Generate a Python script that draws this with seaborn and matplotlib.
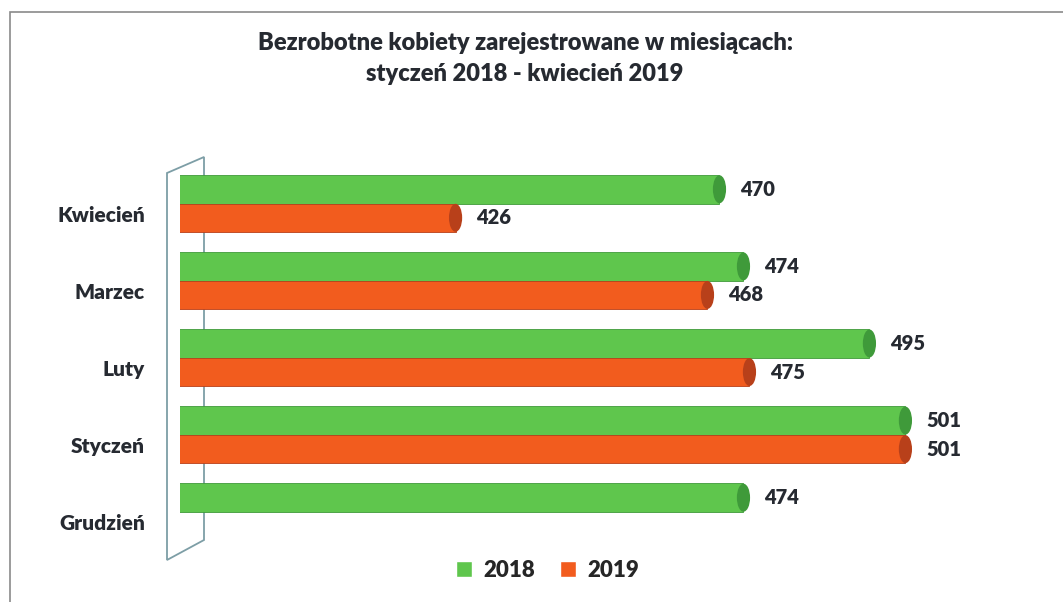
import numpy as np
import pandas as pd
import matplotlib
matplotlib.use("Agg")
import matplotlib.pyplot as plt
import seaborn as sns
from matplotlib.patches import Ellipse, Polygon, Rectangle
from matplotlib.transforms import ScaledTranslation

months = ["Kwiecień", "Marzec", "Luty", "Styczeń", "Grudzień"]
values_2018 = [470, 474, 495, 501, 474]
values_2019 = [426, 468, 475, 501, np.nan]
years = ["2018", "2019"]
title = "Bezrobotne kobiety zarejestrowane w miesiącach:\nstyczeń 2018 - kwiecień 2019"

colors = {"2018": "#5fc64d", "2019": "#f25c1e"}
caps = {"2018": "#3f9a3a", "2019": "#b8401a"}
ink = "#262a31"

df = pd.DataFrame({
    "month": months * 2,
    "year": [years[0]] * len(months) + [years[1]] * len(months),
    "value": values_2018 + values_2019,
})

sns.set_theme(style="white")
plt.rcParams["font.family"] = ["Lato", "DejaVu Sans"]

fig = plt.figure(figsize=(10.63, 6.02), dpi=100)
ax = fig.add_axes([0.169, 0.0855, 0.821, 0.6405])
ax.set_zorder(2)
ax.patch.set_alpha(0)

sns.barplot(data=df, x="value", y="month", hue="year", order=months,
            hue_order=years, palette=colors, orient="h", width=0.74,
            gap=0, ax=ax, saturation=1, legend=True)

ax.set_xlim(380, 525.5)
ax.set_ylim(4.5, -0.5)

# cylinder ends + value labels
for cont, yr in zip(ax.containers, years):
    for p in cont.patches:
        w = p.get_width()
        if not np.isfinite(w):
            continue
        yc = p.get_y() + p.get_height() / 2
        ax.add_patch(Ellipse((p.get_x() + w, yc), width=2.2,
                             height=p.get_height() * 0.98,
                             facecolor=caps[yr], edgecolor="none", zorder=3))
        p.set_edgecolor(caps[yr])
        p.set_linewidth(0.6)
    ax.bar_label(cont, padding=15, fontsize=14.5, fontweight="heavy",
                 color=ink, fmt="%d")

for s in ax.spines.values():
    s.set_visible(False)
ax.set_xticks([])
ax.set_xlabel("")
ax.set_ylabel("")
ax.tick_params(axis="y", length=0, pad=25, labelsize=15)
for lbl in ax.get_yticklabels():
    lbl.set_fontweight("heavy")
    lbl.set_color(ink)
    lbl.set_transform(lbl.get_transform() + ScaledTranslation(0, -0.1, fig.dpi_scale_trans))

# 3D wall behind the category axis
W, H = 1063, 602
wall = [(167, 173), (204, 157), (204, 540), (167, 560)]
fig.patches.append(Polygon([(x / W, 1 - y / H) for x, y in wall], closed=True,
                           transform=fig.transFigure, fill=False,
                           edgecolor="#7d9ea6", linewidth=1.3, zorder=0))

# chart frame
fig.patches.append(Rectangle((10 / W, -0.05), 1.1, 1 - 12 / H + 0.05,
                             transform=fig.transFigure, fill=False,
                             edgecolor="#8a8a8a", linewidth=1.2, zorder=0))

fig.text(0.494, 0.902, title, ha="center", va="center", fontsize=17,
         fontweight="heavy", color=ink, linespacing=1.5)

ax.legend_.remove()
handles = [Rectangle((0, 0), 1, 1, facecolor=colors[y]) for y in years]
fig.legend(handles, years, loc="center", bbox_to_anchor=(0.515, 0.053),
           ncol=2, frameon=False, handlelength=0.75, handleheight=0.75,
           handletextpad=0.5, columnspacing=1.1,
           prop={"weight": "heavy", "size": 16})

fig.savefig("out.png", dpi=100)
